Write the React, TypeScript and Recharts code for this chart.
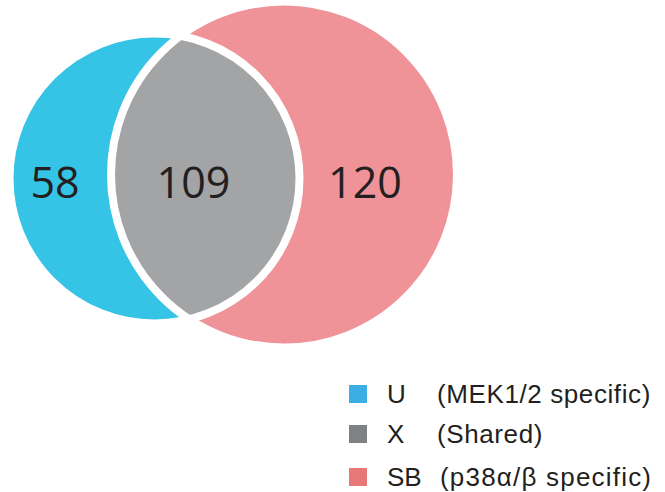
import React from "react";
import { ScatterChart, Scatter, XAxis, YAxis } from "recharts";

// region names, counts and legend text
const CATEGORIES = ["U", "X", "SB"];
const COUNTS = [58, 109, 120];
const DESCRIPTIONS = ["(MEK1/2 specific)", "(Shared)", "(p38\u03b1/\u03b2 specific)"];

// venn layout in chart units (x: 0..665, y: 0..360)
const SET_NAMES = ["U", "SB"];
const SET_CX = [154.5, 284];
const SET_CY = [178.5, 174.5];
const SET_R = [145, 173];
const LABEL_X = [55, 193.5, 365];
const LABEL_Y = [198, 198, 198];

const CHART_W = 665;
const CHART_H = 360;
const X_DOMAIN: [number, number] = [0, 665];
const Y_DOMAIN: [number, number] = [0, 360];
const PX_PER_UNIT = CHART_W / (X_DOMAIN[1] - X_DOMAIN[0]);

const FILL = ["#35C4E5", "#A3A4A6", "#EF9398"];
const LEGEND_FILL = ["#3BAFE4", "#808184", "#E87778"];
const GAP = 8;

const setData = SET_NAMES.map((name, i) => ({
  name,
  x: SET_CX[i],
  y: SET_CY[i],
  r: SET_R[i],
  fill: i === 0 ? FILL[0] : FILL[2],
}));

const labelData = COUNTS.map((value, i) => ({
  name: CATEGORIES[i],
  value,
  x: LABEL_X[i],
  y: LABEL_Y[i],
}));

const overlapData = [{ name: "X", x: (SET_CX[0] + SET_CX[1]) / 2, y: (SET_CY[0] + SET_CY[1]) / 2 }];

const sx = (v: number) => (v - X_DOMAIN[0]) * PX_PER_UNIT;
const sy = (v: number) => (v - Y_DOMAIN[0]) * (CHART_H / (Y_DOMAIN[1] - Y_DOMAIN[0]));

function lensPath() {
  const x1 = sx(SET_CX[0]);
  const y1 = sy(SET_CY[0]);
  const x2 = sx(SET_CX[1]);
  const y2 = sy(SET_CY[1]);
  const r1 = SET_R[0] * PX_PER_UNIT;
  const r2 = SET_R[1] * PX_PER_UNIT;
  const dx = x2 - x1;
  const dy = y2 - y1;
  const d = Math.sqrt(dx * dx + dy * dy);
  const a = (d * d + r1 * r1 - r2 * r2) / (2 * d);
  const h = Math.sqrt(r1 * r1 - a * a);
  const ux = dx / d;
  const uy = dy / d;
  const bx = x1 + a * ux;
  const by = y1 + a * uy;
  // top and bottom crossing points
  const tx = bx + h * uy;
  const ty = by - h * ux;
  const btx = bx - h * uy;
  const bty = by + h * ux;
  return `M${tx},${ty} A${r1},${r1} 0 0 1 ${btx},${bty} A${r2},${r2} 0 0 1 ${tx},${ty} Z`;
}

const SetShape = (props: any) => {
  const { cx, cy, payload } = props;
  return <circle cx={cx} cy={cy} r={payload.r * PX_PER_UNIT} fill={payload.fill} />;
};

const OutlineShape = (props: any) => {
  const { cx, cy, payload } = props;
  return (
    <circle cx={cx} cy={cy} r={payload.r * PX_PER_UNIT} fill="none" stroke="#fff" strokeWidth={GAP} />
  );
};

const LensShape = () => <path d={lensPath()} fill={FILL[1]} />;

const CountLabel = (props: any) => {
  const { cx, cy, payload } = props;
  return (
    <text
      x={cx}
      y={cy}
      textAnchor="middle"
      fill="#231F20"
      fontFamily="'Open Sans', sans-serif"
      fontSize={43}
    >
      {payload.value}
    </text>
  );
};

const LEGEND_TOP = [385, 425, 468];
const DESC_X = [437, 437, 440];
const DESC_SPACING = [0.6, 0.6, 1.2];

export default function App() {
  return (
    <div style={{ position: "absolute", left: 0, top: 0, width: 665, height: 492, background: "#fff" }}>
      <ScatterChart width={CHART_W} height={CHART_H} margin={{ top: 0, right: 0, bottom: 0, left: 0 }}>
        <XAxis type="number" dataKey="x" domain={X_DOMAIN} hide />
        <YAxis type="number" dataKey="y" domain={Y_DOMAIN} reversed hide />
        <Scatter data={setData} shape={SetShape} isAnimationActive={false} legendType="none" />
        <Scatter data={overlapData} shape={LensShape} isAnimationActive={false} legendType="none" />
        <Scatter data={setData} shape={OutlineShape} isAnimationActive={false} legendType="none" />
        <Scatter data={labelData} shape={CountLabel} isAnimationActive={false} legendType="none" />
      </ScatterChart>
      <svg
        width={665}
        height={492}
        style={{ position: "absolute", left: 0, top: 0, pointerEvents: "none" }}
      >
        {CATEGORIES.map((cat, i) => (
          <g key={cat} fontFamily="'Liberation Sans', Arial, sans-serif" fontSize={26} fill="#231F20">
            <rect x={349} y={LEGEND_TOP[i]} width={18} height={18} fill={LEGEND_FILL[i]} />
            <text x={387} y={LEGEND_TOP[i] + 18}>
              {cat}
            </text>
            <text x={DESC_X[i]} y={LEGEND_TOP[i] + 18} letterSpacing={DESC_SPACING[i]}>
              {DESCRIPTIONS[i]}
            </text>
          </g>
        ))}
      </svg>
    </div>
  );
}
